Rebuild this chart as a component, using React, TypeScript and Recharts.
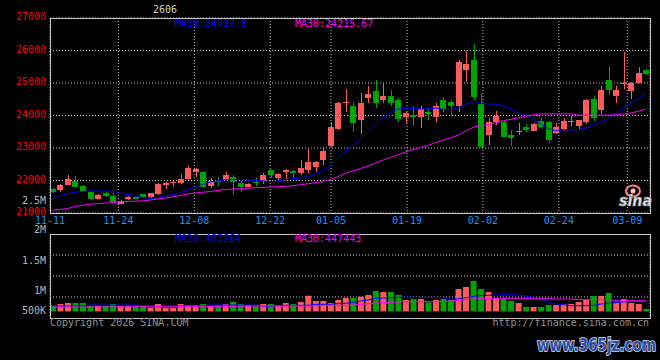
import React from "react";
import { ComposedChart, Bar, Line, XAxis, YAxis, CartesianGrid, Cell } from "recharts";

// ---------- data ----------
const DATES = [
  "11-11","11-12","11-13","11-14","11-17","11-18","11-19","11-20","11-21",
  "11-24","11-25","11-26","11-27","11-28","12-01","12-02","12-03","12-04","12-05",
  "12-08","12-09","12-10","12-11","12-12","12-15","12-16","12-17","12-18","12-19",
  "12-22","12-23","12-24","12-25","12-26","12-29","12-30","12-31",
  "01-05","01-06","01-07","01-08","01-09","01-12","01-13","01-14","01-15","01-16",
  "01-19","01-20","01-21","01-22","01-23","01-26","01-27","01-28","01-29","01-30",
  "02-02","02-03","02-04","02-05","02-06","02-09","02-10","02-11","02-12","02-13",
  "02-24","02-25","02-26","02-27","03-02","03-03","03-04","03-05","03-06",
  "03-09","03-10","03-11","03-12",
];

const OPEN = [
  21730,21700,21870,21990,21840,21655,21440,21630,21510,
  21280,21420,21490,21590,21480,21600,21860,21920,21910,22055,
  22270,22270,21840,21990,22020,22100,21910,21800,21960,21980,
  22310,22085,22270,22300,22240,22330,22410,22620,
  23070,23590,24380,24300,23870,24530,24760,24480,24600,24480,
  23940,24020,23940,24120,23950,24480,24430,24280,25400,25710,
  24360,23410,23785,23806,23406,23490,23650,23530,23836,23806,
  23458,23580,23806,23683,23785,24512,24174,25096,24605,
  24973,24768,24994,25403,
];
const HIGH = [
  21760,21880,22160,22150,21850,21660,21570,21650,21630,
  21400,21510,21500,21600,21620,21920,21940,21980,22210,22450,
  22370,22280,22065,22100,22270,22170,21970,21910,22085,22230,
  22350,22220,22340,22310,22640,22980,22590,23040,
  23785,24420,24820,24420,24690,24910,25100,24990,24790,24530,
  24110,24300,24280,24195,24380,24580,24480,25710,26000,26200,
  24670,23920,24140,23870,23560,23765,23745,23765,23918,23836,
  23765,23918,23990,23860,24502,24605,24912,25526,24912,
  25956,25035,25485,25423,
];
const LOW = [
  21620,21640,21860,21800,21660,21410,21430,21490,21320,
  21270,21410,21420,21490,21470,21540,21740,21790,21900,22020,
  22120,21780,21760,21840,22010,21560,21640,21790,21840,21880,
  22065,21990,22020,22065,22180,22230,22250,22485,
  23030,23560,24120,23480,23420,24380,24230,24400,24280,23785,
  23765,23680,23620,23850,23810,24120,23980,24120,25045,24480,
  23020,23100,23710,23335,23070,23406,23480,23520,23610,23150,
  23437,23510,23683,23580,23744,23816,24051,24635,24400,
  24810,24523,24994,25240,
];
const CLOSE = [
  21640,21870,22055,21810,21690,21440,21560,21510,21330,
  21380,21480,21430,21500,21610,21880,21910,21940,22055,22390,
  22360,21790,22000,21940,22180,21940,21800,21900,21920,22180,
  22180,22210,22330,22240,22390,22580,22580,22915,
  23650,24390,24430,23765,24390,24670,24380,24600,24380,23900,
  24090,23940,24195,24050,24300,24205,24280,25660,25590,24560,
  23020,23806,23970,23335,23294,23530,23560,23745,23660,23232,
  23652,23836,23836,23847,24482,23918,24789,24789,24789,
  24994,24994,25321,25280,
];
const MA10 = [
  21470,21530,21590,21640,21665,21676,21676,21676,21670,
  21600,21570,21530,21480,21445,21470,21520,21570,21620,21720,
  21810,21880,21950,21990,22020,22024,22024,22015,22000,21990,
  21965,21990,22024,22050,22080,22126,22200,22300,
  22450,22700,22900,23090,23260,23500,23740,23940,24100,24200,
  24225,24215,24200,24210,24226,24190,24180,24240,24340,24440,
  24380,24350,24355,24300,24200,24090,24000,23900,23740,23590,
  23530,23560,23560,23560,23610,23700,23800,23900,24050,
  24230,24380,24530,24718,
];
const MA30 = [
  21085,21110,21140,21200,21240,21270,21290,21305,21320,
  21340,21355,21365,21375,21400,21430,21460,21500,21540,21585,
  21614,21640,21660,21700,21720,21740,21750,21765,21780,21790,
  21800,21810,21820,21840,21870,21900,21935,21975,
  22030,22120,22220,22300,22370,22450,22540,22630,22710,22790,
  22880,22950,23020,23080,23170,23240,23310,23400,23520,23640,
  23690,23720,23780,23840,23880,23930,23980,24020,24050,24051,
  24051,24051,24050,24010,24010,24010,24010,24010,24020,
  24045,24080,24130,24200,
];
const VOLUME = [
  157000,191000,217000,217000,217000,140000,140000,140000,191000,
  140000,140000,140000,140000,88000,191000,88000,88000,191000,165000,
  165000,191000,131000,165000,191000,243000,191000,165000,131000,191000,
  191000,165000,217000,191000,243000,406000,269000,269000,
  217000,295000,346000,346000,381000,424000,528000,501000,501000,424000,
  295000,320000,320000,234000,295000,320000,295000,579000,631000,786000,
  579000,501000,338000,320000,269000,217000,114000,114000,114000,165000,
  165000,191000,191000,243000,295000,398000,398000,475000,217000,
  320000,217000,191000,62000,
];
const VOL_MA10 = [
  140000,140000,140000,140000,140000,165000,165000,165000,165000,
  165000,165000,165000,148000,148000,122000,122000,140000,140000,140000,
  140000,140000,165000,165000,165000,165000,165000,165000,165000,131000,
  131000,157000,157000,157000,157000,157000,183000,183000,
  183000,200000,208000,234000,269000,295000,338000,346000,355000,363000,
  372000,363000,363000,363000,363000,355000,312000,329000,355000,389000,
  406000,415000,424000,432000,432000,424000,398000,363000,320000,252000,
  191000,174000,148000,148000,148000,157000,191000,208000,226000,
  243000,260000,269000,269000,
];
const VOL_MA30 = [
  114000,114000,114000,114000,114000,114000,114000,114000,114000,
  114000,114000,131000,131000,131000,131000,131000,131000,131000,131000,
  131000,131000,131000,131000,131000,131000,131000,140000,140000,140000,
  140000,140000,140000,140000,140000,140000,140000,157000,
  157000,157000,157000,165000,183000,200000,217000,226000,234000,243000,
  252000,252000,252000,252000,252000,260000,269000,286000,303000,320000,
  329000,338000,338000,338000,338000,338000,338000,338000,338000,338000,
  320000,320000,320000,303000,303000,303000,303000,303000,277000,
  277000,277000,277000,277000,
];

const PRICE_TICKS = [21000, 22000, 23000, 24000, 25000, 26000, 27000];
const DATE_TICK_INDEX = [0, 9, 19, 29, 37, 47, 57, 67, 76];
const VOL_TICKS = [500000, 1000000, 1500000, 2000000, 2500000];
const VOL_TICK_LABELS = ["500K", "1M", "1.5M", "2M", "2.5M"];
const TITLE = "2606";
const PRICE_MA10_LABEL = "MA10:24717.5";
const PRICE_MA30_LABEL = "MA30:24215.67";
const VOL_MA10_LABEL = "MA10:403264";
const VOL_MA30_LABEL = "MA30:447443";
const COPYRIGHT = "Copyright 2026 SINA.COM";
const URL_TEXT = "http://finance.sina.com.cn";
const WATERMARK = "www.365jz.com";

const rows = DATES.map((date, i) => ({
  i,
  date,
  open: OPEN[i],
  high: HIGH[i],
  low: LOW[i],
  close: CLOSE[i],
  ma10: MA10[i],
  ma30: MA30[i],
  vol: VOLUME[i],
  vma10: VOL_MA10[i],
  vma30: VOL_MA30[i],
}));

// ---------- style / layout ----------
const FONT = "'DejaVu Sans Mono', monospace";
const RED = "#ff5a5a";
const GREEN = "#00a400";
const GRID = "#c4c4c4";
const FRAME = "#c8c8c8";
const CANDLE_DOMAIN: [number, number] = [-0.36, 79.53];
const GRID_DOMAIN: [number, number] = [0, 600 / 7.6];
const VOL_DOMAIN: [number, number] = [-170000, 2000000];
const VOL_LABEL_DY = [21.9, 21.3, 10.6, -0.7, -10.6];

const Candle = (props: any) => {
  const { x, y, width, height, payload } = props;
  if (!payload || x == null || y == null) return null;
  const { open, close, high, low } = payload;
  const up = close >= open;
  const color = up ? RED : GREEN;
  const span = high - low;
  const toY = (v: number) => (span > 0 ? y + ((high - v) / span) * height : y);
  const top = toY(Math.max(open, close));
  const bot = toY(Math.min(open, close));
  const cx = Math.round(x + width / 2);
  return (
    <g shapeRendering="crispEdges">
      <rect x={cx} y={y} width={1} height={Math.max(1, height)} fill={color} />
      <rect x={cx - 3} y={top} width={6} height={Math.max(1, bot - top)} fill={color} />
    </g>
  );
};

const PriceTick = (props: any) => {
  const { x, y, payload } = props;
  return (
    <text x={x - 4} y={y + 2} textAnchor="end" fill="#ff0000" fontSize={10} fontFamily={FONT}>
      {payload.value}
    </text>
  );
};

const DateTick = (props: any) => {
  const { x, y, payload } = props;
  return (
    <text x={x} y={y + 11} textAnchor="middle" fill="#1e90ff" fontSize={10} fontFamily={FONT}>
      {DATES[payload.value]}
    </text>
  );
};

const VolTick = (props: any) => {
  const { x, y, payload } = props;
  const k = VOL_TICKS.indexOf(payload.value);
  if (k < 0) return null;
  return (
    <text x={x - 4} y={y + VOL_LABEL_DY[k]} textAnchor="end" fill="#b4b4b4" fontSize={10} fontFamily={FONT}>
      {VOL_TICK_LABELS[k]}
    </text>
  );
};

const abs = (l: number, t: number, w: number, h: number): React.CSSProperties => ({
  position: "absolute",
  left: l,
  top: t,
  width: w,
  height: h,
});

export default function App() {
  return (
    <div style={{ ...abs(0, 0, 660, 360), background: "#000", overflow: "hidden" }}>
      <div style={abs(0, 0, 660, 230)}>
        <ComposedChart width={660} height={230} data={rows} margin={{ top: 18, right: 10, bottom: 0, left: 0 }}>
          <CartesianGrid xAxisId="g" yAxisId="p" stroke={GRID} strokeDasharray="1 2" />
          <XAxis
            xAxisId="g"
            type="number"
            domain={GRID_DOMAIN}
            allowDataOverflow
            ticks={DATE_TICK_INDEX}
            interval={0}
            height={17}
            tickSize={0}
            tickMargin={0}
            tickLine={false}
            axisLine={false}
            tick={<DateTick />}
          />
          <XAxis xAxisId="c" dataKey="i" type="number" domain={CANDLE_DOMAIN} allowDataOverflow height={0} hide />
          <YAxis
            yAxisId="p"
            domain={[21000, 27000]}
            allowDataOverflow
            ticks={PRICE_TICKS}
            interval={0}
            width={50}
            tickSize={0}
            tickMargin={0}
            tickLine={false}
            axisLine={false}
            tick={<PriceTick />}
          />
          <Bar
            xAxisId="c"
            yAxisId="p"
            dataKey={(d: any) => [d.low, d.high]}
            barSize={6}
            shape={<Candle />}
            isAnimationActive={false}
          />
          <Line xAxisId="c" yAxisId="p" type="linear" dataKey="ma10" stroke="#0000ff" strokeWidth={1} dot={false} isAnimationActive={false} />
          <Line xAxisId="c" yAxisId="p" type="linear" dataKey="ma30" stroke="#ff00ff" strokeWidth={1} dot={false} isAnimationActive={false} />
        </ComposedChart>
      </div>

      <div style={abs(0, 0, 660, 360)}>
        <ComposedChart width={660} height={360} data={rows} margin={{ top: 234, right: 10, bottom: 42, left: 0 }}>
          <CartesianGrid
            xAxisId="g"
            yAxisId="v"
            stroke={GRID}
            strokeDasharray="1 2"
            horizontalCoordinatesGenerator={({ offset }: any) => [1, 2, 3].map((k) => offset.top + (offset.height * k) / 4)}
          />
          <XAxis
            xAxisId="g"
            type="number"
            domain={GRID_DOMAIN}
            allowDataOverflow
            ticks={DATE_TICK_INDEX}
            interval={0}
            height={0}
            tick={false}
            tickLine={false}
            axisLine={false}
          />
          <XAxis xAxisId="c" dataKey="i" type="number" domain={CANDLE_DOMAIN} allowDataOverflow height={0} hide />
          <YAxis
            yAxisId="v"
            domain={VOL_DOMAIN}
            allowDataOverflow
            ticks={VOL_TICKS}
            interval={0}
            width={50}
            tickSize={0}
            tickMargin={0}
            tickLine={false}
            axisLine={false}
            tick={<VolTick />}
          />
          <Bar xAxisId="c" yAxisId="v" dataKey="vol" barSize={6} isAnimationActive={false}>
            {rows.map((r) => (
              <Cell key={r.i} fill={r.close >= r.open ? RED : GREEN} />
            ))}
          </Bar>
          <Line xAxisId="c" yAxisId="v" type="linear" dataKey="vma10" stroke="#0000ff" strokeWidth={1} dot={false} isAnimationActive={false} />
          <Line xAxisId="c" yAxisId="v" type="linear" dataKey="vma30" stroke="#ff00ff" strokeWidth={1} dot={false} isAnimationActive={false} />
        </ComposedChart>
      </div>

      <div style={{ ...abs(50, 18, 601, 196), border: `1px solid ${FRAME}`, boxSizing: "border-box" }} />
      <div style={{ ...abs(50, 234, 601, 85), border: `1px solid ${FRAME}`, boxSizing: "border-box" }} />

      <svg width={660} height={360} style={{ position: "absolute", left: 0, top: 0 }}>
        <g fontFamily={FONT} fontSize={10}>
          <text x={153} y={12.5} fill="#d0d0d0">{TITLE}</text>
          <text x={175} y={27.3} fill="#0000ff">{PRICE_MA10_LABEL}</text>
          <text x={295} y={27.3} fill="#ff00ff">{PRICE_MA30_LABEL}</text>
          <text x={175} y={242.3} fill="#0000ff">{VOL_MA10_LABEL}</text>
          <text x={295} y={242.3} fill="#ff00ff">{VOL_MA30_LABEL}</text>
          <text x={50} y={325.5} fill="#909090">{COPYRIGHT}</text>
          <text x={649} y={325.5} fill="#909090" textAnchor="end">{URL_TEXT}</text>
        </g>
        <g>
          <ellipse cx={633} cy={191} rx={7} ry={5.5} fill="none" stroke="#ff8080" strokeWidth={2} />
          <circle cx={633} cy={191} r={2.5} fill="#ffc0c0" />
          <text
            x={619}
            y={206}
            fontFamily="'DejaVu Sans', sans-serif"
            fontSize={15}
            fontWeight="bold"
            fontStyle="italic"
            fill="#e8e8e8"
            stroke="#8a8a8a"
            strokeWidth={0.7}
            textLength={33}
            lengthAdjust="spacingAndGlyphs"
          >
            sina
          </text>
        </g>
        <text
          x={537}
          y={351}
          fontFamily="'DejaVu Sans', sans-serif"
          fontSize={17}
          fontWeight="bold"
          fill="#2d4ea0"
          stroke="#d8dce8"
          strokeWidth={1.6}
          paintOrder="stroke"
          textLength={119}
          lengthAdjust="spacingAndGlyphs"
        >
          {WATERMARK}
        </text>
      </svg>
    </div>
  );
}
